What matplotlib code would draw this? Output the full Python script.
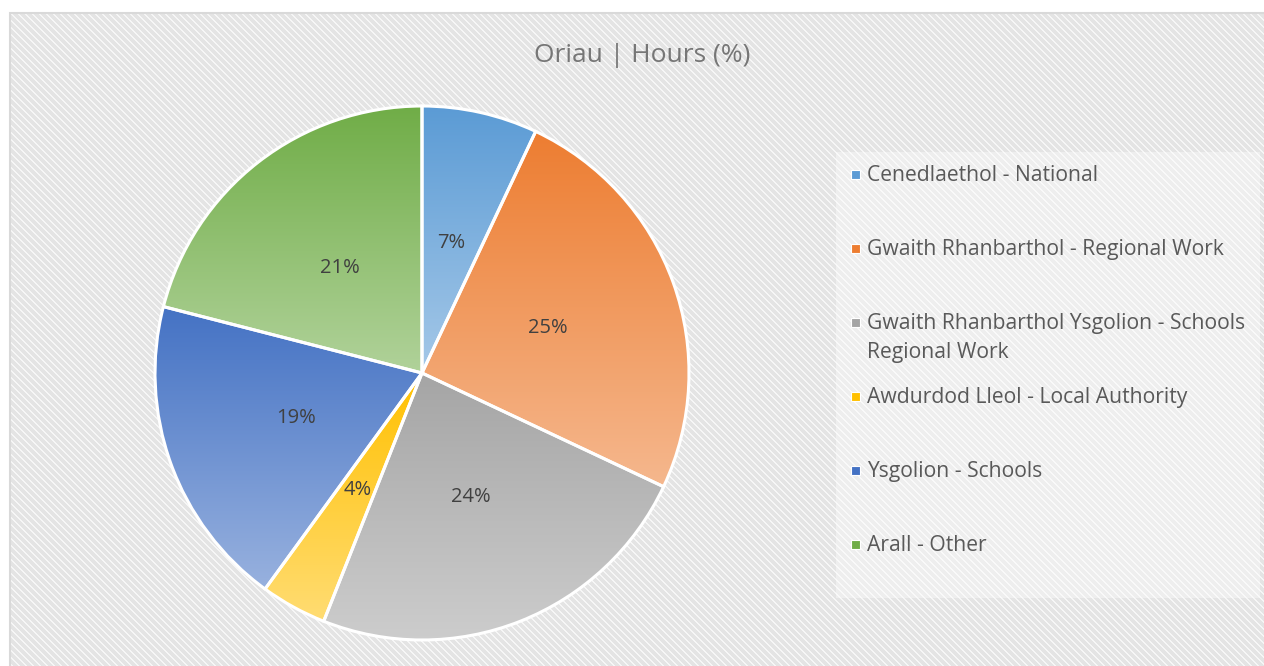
import numpy as np
import matplotlib
matplotlib.use("Agg")
import matplotlib.pyplot as plt
from matplotlib.colors import to_rgb
from matplotlib.patches import Rectangle

# ---- data ----
categories = [
    "Cenedlaethol - National",
    "Gwaith Rhanbarthol - Regional Work",
    "Gwaith Rhanbarthol Ysgolion - Schools\nRegional Work",
    "Awdurdod Lleol - Local Authority",
    "Ysgolion - Schools",
    "Arall - Other",
]
values = [7, 25, 24, 4, 19, 21]
colors = ["#5B9BD5", "#ED7D31", "#A5A5A5", "#FFC000", "#4472C4", "#70AD47"]
title = "Oriau | Hours (%)"

W, H = 1264, 666
DPI = 100
FONT = ["Open Sans", "DejaVu Sans"]
plt.rcParams["font.family"] = FONT

fig = plt.figure(figsize=(W / DPI, H / DPI), dpi=DPI)
fig.patch.set_facecolor("white")

# ---- patterned chart-area background ----
bx0, by0 = 10, 13
bw, bh = W - bx0, H - by0
yy, xx = np.mgrid[0:bh, 0:bw]
stripe = ((xx - yy) % 7) < 2
bg = np.empty((bh, bw, 3))
bg[:] = np.array(to_rgb("#E4E4E4"))
bg[stripe] = np.array(to_rgb("#F6F6F6"))
bgax = fig.add_axes([bx0 / W, 0, bw / W, bh / H])
bgax.imshow(bg, aspect="auto", interpolation="nearest", extent=[0, 1, 0, 1])
bgax.set_xlim(0, 1)
bgax.set_ylim(0, 1)
bgax.axis("off")
fig.add_artist(Rectangle((bx0 / W, -0.01), bw / W + 0.01, bh / H + 0.01,
                         transform=fig.transFigure, fill=False,
                         edgecolor="#D9D9D9", linewidth=1.5))

# ---- pie ----
cx, cy, R = 422, 373, 267
ax = fig.add_axes([(cx - R) / W, (H - cy - R) / H, 2 * R / W, 2 * R / H])
wedges, texts, autotexts = ax.pie(
    values, startangle=90, counterclock=False, radius=1,
    autopct=lambda p: f"{p:.0f}%", pctdistance=0.5,
    colors=["none"] * len(values),
    wedgeprops=dict(edgecolor="white", linewidth=2.2),
    textprops=dict(color="#404040", fontsize=14.5),
)
ax.set_xlim(-1, 1)
ax.set_ylim(-1, 1)
ax.set_aspect("equal")
ax.axis("off")


def lighten(c, f):
    r = np.array(to_rgb(c))
    return r + (1 - r) * f


for w, c in zip(wedges, colors):
    verts = w.get_path().vertices
    x0, y0 = verts[:, 0].min(), verts[:, 1].min()
    x1, y1 = verts[:, 0].max(), verts[:, 1].max()
    top = lighten(c, 0.0)
    bot = lighten(c, 0.45)
    t = np.linspace(0, 1, 256)[:, None]
    grad = top[None, :] * (1 - t) + bot[None, :] * t
    img = np.repeat(grad[:, None, :], 2, axis=1)
    im = ax.imshow(img, extent=[x0, x1, y0, y1], origin="upper",
                   aspect="auto", interpolation="bilinear", zorder=1)
    im.set_clip_path(w)
    w.set_zorder(2)
for t_ in autotexts:
    t_.set_zorder(3)
ax.set_xlim(-1, 1)
ax.set_ylim(-1, 1)

# ---- title ----
fig.text(642 / W, 1 - 56 / H, title, ha="center", va="center",
         fontsize=19, color="#767676")

# ---- legend (custom) ----
lx0, ly0, lx1, ly1 = 836, 152, 1260, 598
fig.add_artist(Rectangle((lx0 / W, 1 - ly1 / H), (lx1 - lx0) / W, (ly1 - ly0) / H,
                         transform=fig.transFigure, facecolor="white",
                         alpha=0.4, edgecolor="none"))
row_y = [174, 248, 322, 396, 470, 544]
for yv, lab, c in zip(row_y, categories, colors):
    fig.add_artist(Rectangle(((855 - 4.5) / W, 1 - (yv + 4.5) / H), 9 / W, 9 / H,
                             transform=fig.transFigure,
                             facecolor=c, edgecolor="white", linewidth=0.8))
    for i, line in enumerate(lab.split("\n")):
        fig.text(867 / W, 1 - (yv + 7 + 29 * i) / H, line, ha="left",
                 va="baseline", fontsize=15.2, color="#595959")

fig.savefig("out.png", dpi=DPI)
